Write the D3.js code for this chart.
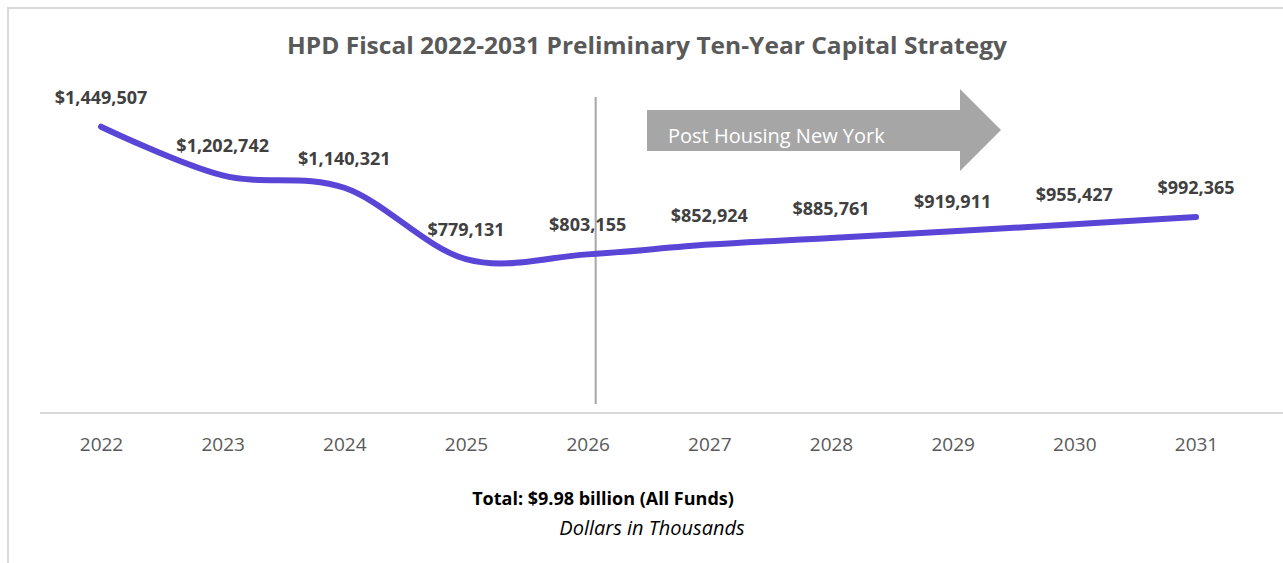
<!DOCTYPE html>
<html>
<head>
<meta charset="utf-8">
<script src="https://cdn.jsdelivr.net/npm/d3@7"></script>
<style>
  body { margin: 0; background: #fff; }
  svg { display: block; font-family: "Open Sans", sans-serif; }
</style>
</head>
<body>
<div id="chart"></div>
<script>
"use strict";

// fiscal years and capital amounts (dollars in thousands)
const years = ["2022", "2023", "2024", "2025", "2026", "2027", "2028", "2029", "2030", "2031"];
const amounts = [1449507, 1202742, 1140321, 779131, 803155, 852924, 885761, 919911, 955427, 992365];
const markerYear = "2026";
const arrowText = "Post Housing New York";
const titleText = "HPD Fiscal 2022-2031 Preliminary Ten-Year Capital Strategy";
const totalText = "Total: $9.98 billion (All Funds)";
const unitText = "Dollars in Thousands";

const width = 1283, height = 563;

const svg = d3.select("#chart").append("svg")
  .attr("width", width)
  .attr("height", height);

// light frame round the chart area
svg.append("path")
  .attr("d", "M8 563 V8 H1283")
  .attr("fill", "none")
  .attr("stroke", "#d9d9d9")
  .attr("stroke-width", 2);

svg.append("text")
  .attr("x", 647)
  .attr("y", 54)
  .attr("text-anchor", "middle")
  .attr("fill", "#595959")
  .style("font-size", "23px")
  .style("font-weight", "bold")
  .attr("textLength", 720)
  .attr("lengthAdjust", "spacingAndGlyphs")
  .text(titleText);

// scales
let x = d3.scalePoint()
  .domain(years)
  .range([101, 1196]);

let y = d3.scaleLinear()
  .domain([0, 1600000])
  .range([413, 97]);

// category axis, ticks hidden
let xAxis = svg.append("g")
  .attr("transform", "translate(0,413)")
  .call(d3.axisBottom(x).tickSize(0).tickPadding(25));

xAxis.select(".domain").remove();
xAxis.selectAll("text")
  .attr("fill", "#595959")
  .style("font-size", "19px")
  .style("font-family", "'Open Sans', sans-serif");

svg.append("line")
  .attr("x1", 40)
  .attr("x2", width)
  .attr("y1", 413)
  .attr("y2", 413)
  .attr("stroke", "#d9d9d9")
  .attr("stroke-width", 2);

// marker where Housing New York ends
svg.append("line")
  .attr("x1", x(markerYear) + 8)
  .attr("x2", x(markerYear) + 8)
  .attr("y1", 97)
  .attr("y2", 404)
  .attr("stroke", "#a6a6a6")
  .attr("stroke-width", 2);

// block arrow
let arrowGroup = svg.append("g");
arrowGroup.append("path")
  .attr("d", "M647 110 H960 V89 L1001 130 L960 171 V151 H647 Z")
  .attr("fill", "#a6a6a6");
arrowGroup.append("text")
  .attr("x", 668)
  .attr("y", 143)
  .attr("fill", "#fff")
  .style("font-size", "20px")
  .text(arrowText);

// smoothed line
let data = years.map((yr, i) => ({ year: yr, value: amounts[i] }));

let line = d3.line()
  .x(d => x(d.year))
  .y(d => y(d.value))
  .curve(d3.curveCardinal.tension(0));

svg.append("path")
  .datum(data)
  .attr("d", line)
  .attr("fill", "none")
  .attr("stroke", "#5a46d6")
  .attr("stroke-width", 6)
  .attr("stroke-linecap", "round");

// value labels
svg.selectAll(".valueLabel")
  .data(data)
  .enter().append("text")
  .attr("class", "valueLabel")
  .attr("x", d => x(d.year))
  .attr("y", d => y(d.value) - 23)
  .attr("text-anchor", "middle")
  .attr("fill", "#404040")
  .style("font-size", "18px")
  .style("font-weight", "bold")
  .text(d => "$" + d3.format(",")(d.value));

// footer notes
svg.append("text")
  .attr("x", 603)
  .attr("y", 505)
  .attr("text-anchor", "middle")
  .attr("fill", "#000")
  .style("font-size", "18px")
  .style("font-weight", "bold")
  .text(totalText);

svg.append("text")
  .attr("x", 652)
  .attr("y", 535)
  .attr("text-anchor", "middle")
  .attr("fill", "#000")
  .style("font-size", "20px")
  .style("font-style", "italic")
  .text(unitText);
</script>
</body>
</html>
